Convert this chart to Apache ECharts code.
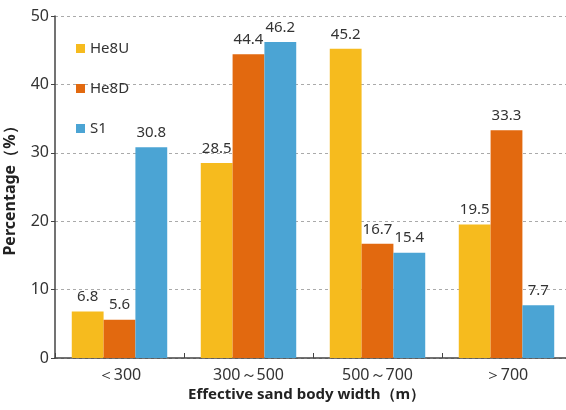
<!DOCTYPE html>
<html>
<head>
<meta charset="utf-8">
<script src="https://cdn.jsdelivr.net/npm/echarts@6/dist/echarts.min.js"></script>
<style>
  html, body { margin: 0; padding: 0; background: #fff; }
  #chart { width: 566px; height: 410px; }
</style>
</head>
<body>
<div id="chart"></div>
<script>
const categories = ['＜300', '300～500', '500～700', '＞700'];
const he8u = [6.8, 28.5, 45.2, 19.5];
const he8d = [5.6, 44.4, 16.7, 33.3];
const s1 = [30.8, 46.2, 15.4, 7.7];
const yTicks = [0, 10, 20, 30, 40, 50];

const FONT = '"Noto Sans", "Open Sans", sans-serif';
const colors = ['#F6BB1E', '#E2690F', '#4BA4D4'];

function barSeries(name, data, color) {
  return {
    name: name,
    type: 'bar',
    data: data,
    barGap: '0%',
    barCategoryGap: '26%',
    itemStyle: { color: color },
    label: {
      show: true,
      position: 'top',
      distance: 7,
      color: '#333',
      fontFamily: FONT,
      fontSize: 15
    }
  };
}

const chart = echarts.init(document.getElementById('chart'));
chart.setOption({
  animation: false,
  textStyle: { fontFamily: FONT },
  legend: {
    orient: 'vertical',
    left: 71,
    top: 36,
    itemGap: 25,
    itemWidth: 9,
    itemHeight: 9,
    icon: 'rect',
    textStyle: { fontSize: 15, color: '#333', fontFamily: FONT },
    data: ['He8U', 'He8D', 'S1']
  },
  grid: {
    left: 55, right: -5, top: 16, bottom: 52,
    containLabel: false,
    outerBoundsMode: 'none'
  },
  xAxis: {
    type: 'category',
    data: categories,
    axisLine: { lineStyle: { color: '#444', width: 1.5 } },
    axisTick: { show: true, inside: true, length: 5, lineStyle: { color: '#444' } },
    axisLabel: { color: '#333', fontSize: 16, fontFamily: FONT, margin: 9 },
    splitLine: { show: false }
  },
  yAxis: {
    type: 'value',
    min: 0,
    max: 50,
    interval: 10,
    name: 'Percentage（%）',
    nameLocation: 'middle',
    nameGap: 37,
    nameTextStyle: { fontWeight: 'bold', fontSize: 16, color: '#222', fontFamily: FONT },
    axisLine: { show: true, lineStyle: { color: '#444', width: 1.5 } },
    axisTick: { show: true, length: 4, lineStyle: { color: '#444' } },
    axisLabel: {
      color: '#333', fontSize: 16, fontFamily: FONT, margin: 6,
      formatter: v => yTicks.includes(v) ? String(v) : ''
    },
    splitLine: { show: true, lineStyle: { type: [3, 3], color: '#aaa', width: 1 } }
  },
  graphic: [{
    type: 'text',
    left: 188,
    top: 387,
    style: {
      text: 'Effective sand body width（m）',
      fontWeight: 'bold',
      fontSize: 15,
      fontFamily: FONT,
      fill: '#222'
    }
  }],
  series: [
    barSeries('He8U', he8u, colors[0]),
    barSeries('He8D', he8d, colors[1]),
    barSeries('S1', s1, colors[2])
  ]
});
</script>
</body>
</html>
